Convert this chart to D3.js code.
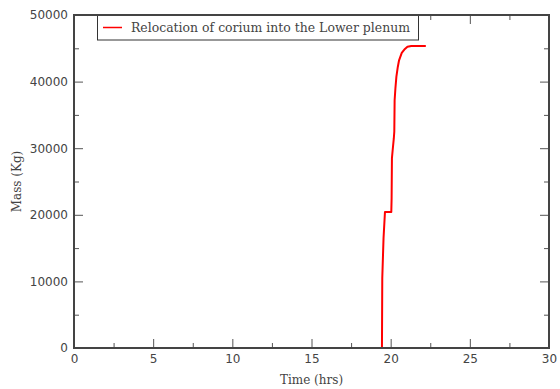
<!DOCTYPE html>
<html>
<head>
<meta charset="utf-8">
<script src="https://cdn.jsdelivr.net/npm/d3@7"></script>
<style>
  html, body { margin: 0; padding: 0; background: #fff; }
  svg { display: block; }
</style>
</head>
<body>
<svg id="chart" width="560" height="389"></svg>
<script>
// Corium mass relocated into the lower plenum over time
const timeHrs = [0, 19.45, 19.47, 19.55, 19.64, 20.04, 20.06, 20.08, 20.13, 20.2, 20.23, 20.25, 20.3, 20.36, 20.45, 20.53, 20.7, 20.9, 21.06, 21.3, 22.22];
const massKg  = [0, 0, 10500, 16500, 20420, 20420, 22500, 28500, 29800, 31500, 32500, 37200, 39000, 40700, 42200, 43200, 44300, 44900, 45240, 45350, 45350];

const xTicks = [0, 5, 10, 15, 20, 25, 30];
const xMinorTicks = [2.5, 7.5, 12.5, 17.5, 22.5, 27.5];
const yTicks = [0, 10000, 20000, 30000, 40000, 50000];
const yMinorTicks = [5000, 15000, 25000, 35000, 45000];

const seriesName = "Relocation of corium into the Lower plenum";
const xTitle = "Time (hrs)";
const yTitle = "Mass (Kg)";

const svg = d3.select("#chart");
const margin = { left: 74, right: 11, top: 15, bottom: 41 };
const W = 560, H = 389;
const x = d3.scaleLinear().domain([0, 30]).range([margin.left, W - margin.right]);
const y = d3.scaleLinear().domain([0, 50000]).range([H - margin.bottom, margin.top]);

const tickColor = "#555";
const axisColor = "#444";
const labelFont = "'DejaVu Sans', sans-serif";
const titleFont = "'DejaVu Serif', serif";

// inward ticks on all four sides
function tickAxis(axisFn, scale, values, size, transform) {
  const g = svg.append("g").attr("transform", transform)
    .call(axisFn(scale).tickValues(values).tickSize(size).tickFormat(""));
  g.select(".domain").remove();
  g.selectAll("line").attr("stroke", tickColor).attr("stroke-width", 1);
  return g;
}
const bottomY = y(0), topY = y(50000), leftX = x(0), rightX = x(30);
tickAxis(d3.axisTop, x, xTicks, 9, `translate(0,${bottomY})`);
tickAxis(d3.axisTop, x, xMinorTicks, 5, `translate(0,${bottomY})`);
tickAxis(d3.axisBottom, x, xTicks, 9, `translate(0,${topY})`);
tickAxis(d3.axisBottom, x, xMinorTicks, 5, `translate(0,${topY})`);
tickAxis(d3.axisRight, y, yTicks, 9, `translate(${leftX},0)`);
tickAxis(d3.axisRight, y, yMinorTicks, 5, `translate(${leftX},0)`);
tickAxis(d3.axisLeft, y, yTicks, 9, `translate(${rightX},0)`);
tickAxis(d3.axisLeft, y, yMinorTicks, 5, `translate(${rightX},0)`);

// tick labels
const xLab = svg.append("g").attr("transform", `translate(0,${bottomY})`)
  .call(d3.axisBottom(x).tickValues(xTicks).tickSize(0).tickPadding(6).tickFormat(d3.format("d")));
xLab.select(".domain").remove();
xLab.selectAll("text").attr("font-family", labelFont).attr("font-size", 12).attr("fill", "#444");

const yLab = svg.append("g").attr("transform", `translate(${leftX},0)`)
  .call(d3.axisLeft(y).tickValues(yTicks).tickSize(0).tickPadding(6).tickFormat(d3.format("d")));
yLab.select(".domain").remove();
yLab.selectAll("text").attr("font-family", labelFont).attr("font-size", 12).attr("fill", "#444");

// data line
const line = d3.line().x((d, i) => x(timeHrs[i])).y(d => y(d));
svg.append("path").datum(massKg)
  .attr("fill", "none").attr("stroke", "#ff0000").attr("stroke-width", 2)
  .attr("stroke-linejoin", "round")
  .attr("d", line);

// frame
svg.append("rect")
  .attr("x", leftX).attr("y", topY)
  .attr("width", rightX - leftX).attr("height", bottomY - topY)
  .attr("fill", "none").attr("stroke", axisColor).attr("stroke-width", 2);

// legend
const lg = svg.append("g");
lg.append("rect").attr("x", 97.5).attr("y", 15).attr("width", 321).attr("height", 25)
  .attr("fill", "#fff").attr("stroke", "#333").attr("stroke-width", 1);
lg.append("line").attr("x1", 103).attr("x2", 122).attr("y1", 27.5).attr("y2", 27.5)
  .attr("stroke", "#ff0000").attr("stroke-width", 1.5);
lg.append("text").attr("x", 131).attr("y", 32)
  .attr("font-family", titleFont).attr("font-size", 12).attr("fill", "#444")
  .attr("textLength", 279).attr("lengthAdjust", "spacingAndGlyphs")
  .text(seriesName);
svg.append("rect").attr("x", 97).attr("y", 14).attr("width", 322).attr("height", 2).attr("fill", axisColor);

// axis titles
svg.append("text").attr("x", (leftX + rightX) / 2).attr("y", 384)
  .attr("text-anchor", "middle").attr("font-family", titleFont).attr("font-size", 12).attr("fill", "#444")
  .text(xTitle);
svg.append("text").attr("transform", `translate(21,${(topY + bottomY) / 2}) rotate(-90)`)
  .attr("text-anchor", "middle").attr("font-family", titleFont).attr("font-size", 12).attr("fill", "#444")
  .text(yTitle);
</script>
</body>
</html>
